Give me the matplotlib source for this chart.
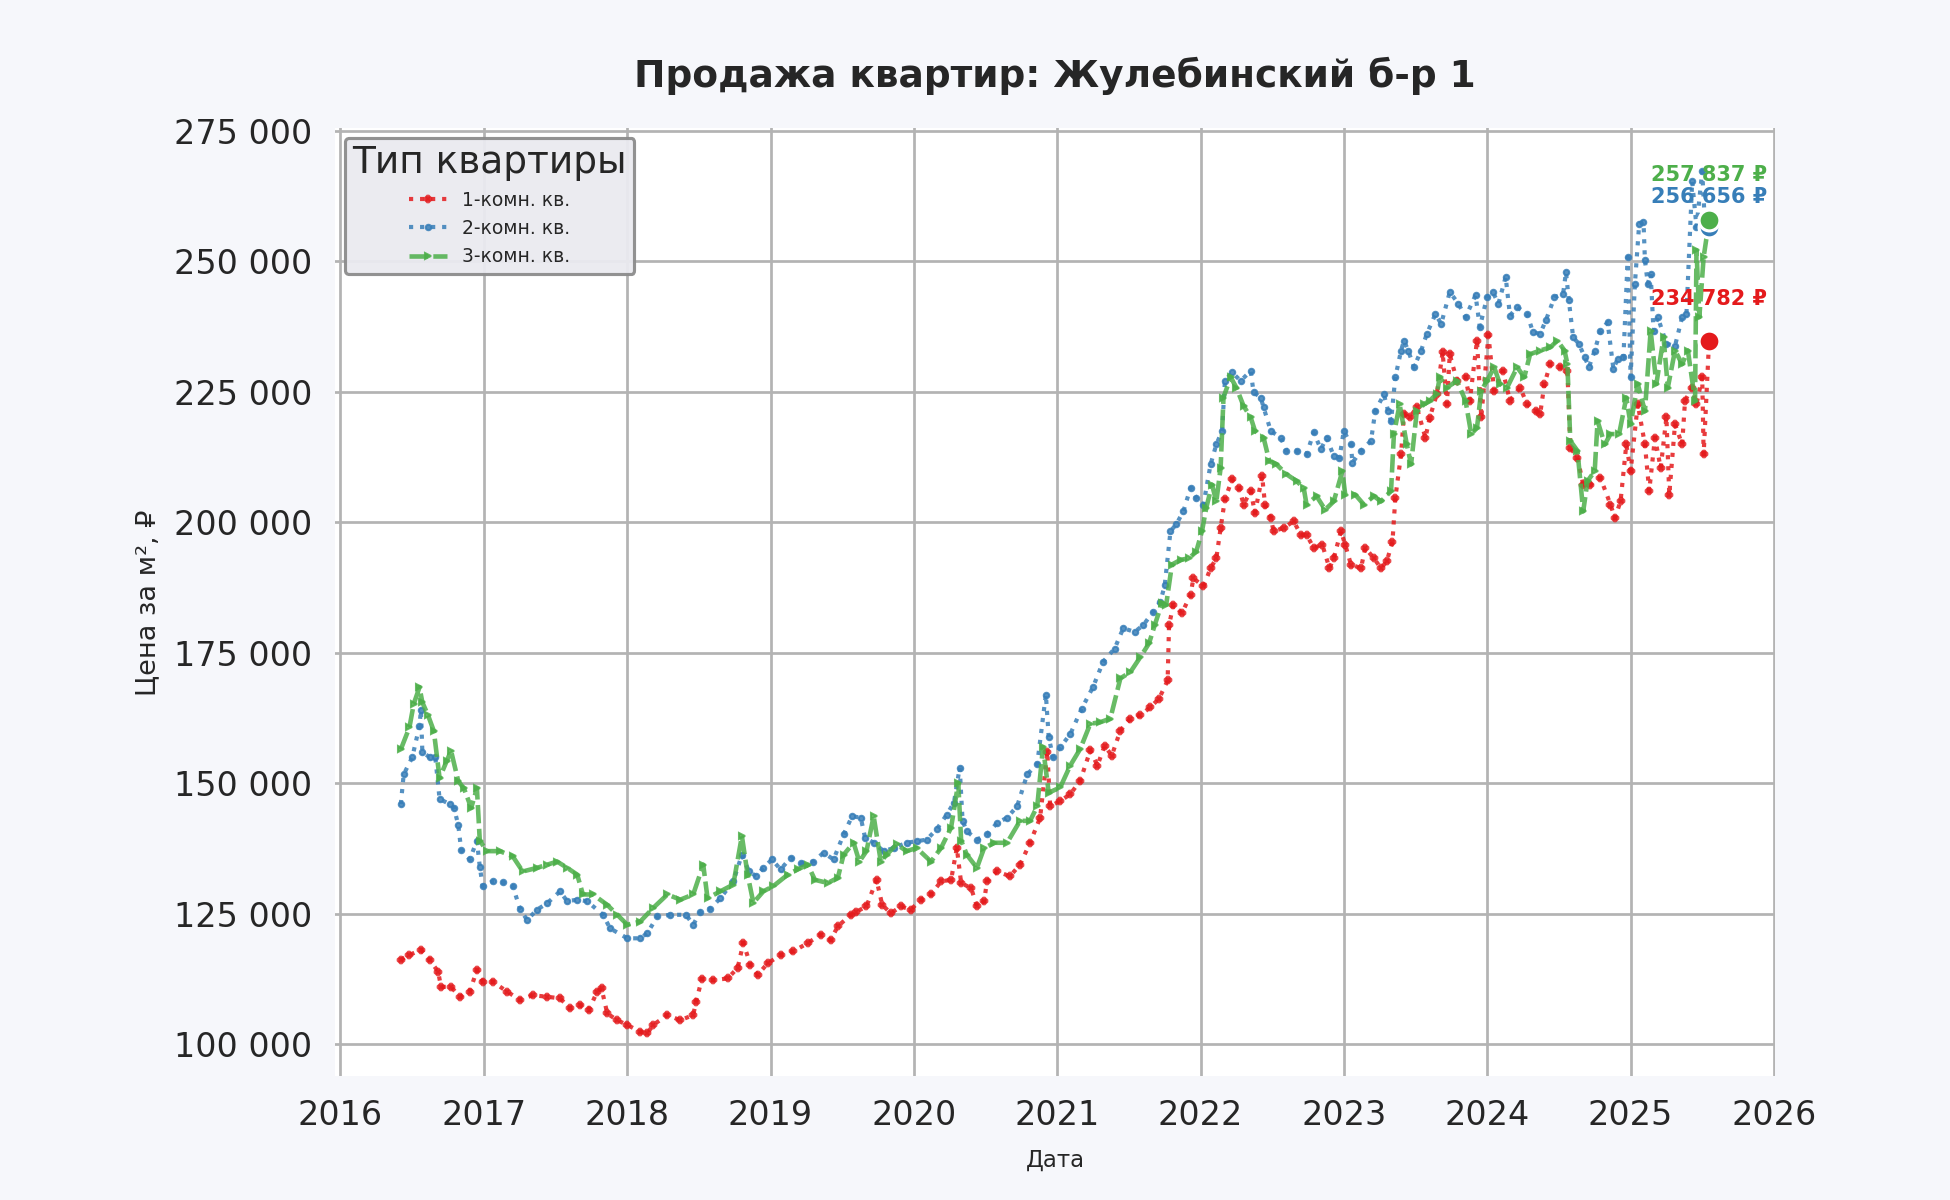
import numpy as np
import pandas as pd
import matplotlib
matplotlib.use("Agg")
import matplotlib.pyplot as plt
import matplotlib.dates as mdates
from matplotlib.ticker import FuncFormatter


# values: decimal year, price per m2 (thousand RUB)
years_1k = [2016.42, 2016.48, 2016.56, 2016.62, 2016.68, 2016.70, 2016.77, 2016.83, 2016.90, 2016.95,
            2016.99, 2017.06, 2017.16, 2017.25, 2017.34, 2017.44, 2017.53, 2017.60, 2017.67, 2017.73,
            2017.79, 2017.82, 2017.86, 2017.93, 2018.00, 2018.09, 2018.14, 2018.18, 2018.28, 2018.37,
            2018.46, 2018.48, 2018.52, 2018.60, 2018.70, 2018.77, 2018.81, 2018.86, 2018.91, 2018.98,
            2019.07, 2019.16, 2019.26, 2019.35, 2019.42, 2019.47, 2019.56, 2019.60, 2019.67, 2019.74,
            2019.78, 2019.84, 2019.91, 2019.98, 2020.05, 2020.12, 2020.19, 2020.26, 2020.30, 2020.33,
            2020.40, 2020.44, 2020.49, 2020.51, 2020.58, 2020.67, 2020.74, 2020.81, 2020.88, 2020.93,
            2020.95, 2021.02, 2021.09, 2021.16, 2021.23, 2021.28, 2021.33, 2021.38, 2021.44, 2021.51,
            2021.58, 2021.65, 2021.71, 2021.77, 2021.78, 2021.81, 2021.87, 2021.93, 2021.95, 2022.02,
            2022.07, 2022.11, 2022.14, 2022.17, 2022.22, 2022.27, 2022.30, 2022.35, 2022.38, 2022.43,
            2022.45, 2022.49, 2022.51, 2022.58, 2022.65, 2022.70, 2022.74, 2022.79, 2022.85, 2022.90,
            2022.93, 2022.98, 2023.01, 2023.05, 2023.12, 2023.15, 2023.21, 2023.26, 2023.30, 2023.34,
            2023.36, 2023.40, 2023.42, 2023.46, 2023.51, 2023.57, 2023.60, 2023.65, 2023.69, 2023.72,
            2023.74, 2023.79, 2023.85, 2023.88, 2023.93, 2023.96, 2024.01, 2024.05, 2024.11, 2024.16,
            2024.23, 2024.28, 2024.34, 2024.37, 2024.40, 2024.44, 2024.51, 2024.56, 2024.58, 2024.63,
            2024.67, 2024.72, 2024.79, 2024.86, 2024.89, 2024.93, 2024.97, 2025.00, 2025.05, 2025.10,
            2025.13, 2025.17, 2025.21, 2025.25, 2025.27, 2025.31, 2025.36, 2025.38, 2025.43, 2025.46,
            2025.50, 2025.51, 2025.548]
price_1k = [116.2, 117.1, 118.1, 116.2, 113.9, 111.0, 111.0, 109.1, 110.1, 114.2,
            112.0, 112.0, 110.1, 108.5, 109.4, 109.1, 108.8, 106.9, 107.5, 106.5,
            110.1, 110.7, 105.9, 104.6, 103.7, 102.4, 102.1, 103.7, 105.6, 104.6,
            105.6, 108.1, 112.5, 112.3, 112.6, 114.6, 119.4, 115.2, 113.3, 115.5,
            117.1, 117.8, 119.4, 121.0, 120.0, 122.6, 124.8, 125.4, 126.4, 131.5,
            126.7, 125.1, 126.4, 125.8, 127.7, 128.7, 131.2, 131.5, 137.6, 130.9,
            129.9, 126.4, 127.4, 131.2, 133.1, 132.2, 134.4, 138.6, 143.4, 156.0,
            145.6, 146.6, 147.9, 150.5, 156.3, 153.4, 157.2, 155.3, 160.1, 162.4,
            163.0, 164.6, 166.2, 169.7, 180.3, 184.2, 182.6, 186.1, 189.3, 187.7,
            191.2, 193.1, 198.9, 204.4, 208.2, 206.6, 203.4, 206.0, 201.8, 208.8,
            203.4, 200.8, 198.3, 198.9, 200.2, 197.6, 197.6, 195.1, 195.7, 191.2,
            193.1, 198.3, 195.7, 191.9, 191.2, 195.1, 193.1, 191.2, 192.5, 196.3,
            204.7, 213.0, 220.7, 220.1, 222.0, 216.2, 220.0, 224.6, 232.6, 222.6,
            232.2, 227.1, 227.8, 223.3, 234.8, 220.1, 235.8, 225.2, 229.0, 223.3,
            225.8, 222.6, 221.3, 220.7, 226.5, 230.3, 229.7, 229.0, 214.3, 212.4,
            207.2, 207.2, 208.5, 203.4, 200.8, 204.0, 214.9, 209.8, 222.6, 214.9,
            206.0, 216.2, 210.4, 220.1, 205.3, 218.8, 214.9, 223.3, 225.8, 222.6,
            227.8, 213.0, 234.782]

years_2k = [2016.42, 2016.44, 2016.50, 2016.55, 2016.56, 2016.57, 2016.62, 2016.66, 2016.69, 2016.76,
            2016.79, 2016.82, 2016.84, 2016.90, 2016.95, 2016.97, 2016.99, 2017.06, 2017.13, 2017.20,
            2017.25, 2017.30, 2017.37, 2017.44, 2017.53, 2017.58, 2017.65, 2017.72, 2017.83, 2017.88,
            2018.00, 2018.09, 2018.14, 2018.21, 2018.30, 2018.41, 2018.46, 2018.51, 2018.58, 2018.65,
            2018.74, 2018.80, 2018.85, 2018.90, 2018.95, 2019.01, 2019.07, 2019.14, 2019.21, 2019.30,
            2019.37, 2019.44, 2019.51, 2019.57, 2019.63, 2019.66, 2019.72, 2019.79, 2019.86, 2019.95,
            2020.02, 2020.09, 2020.16, 2020.23, 2020.28, 2020.32, 2020.34, 2020.37, 2020.44, 2020.51,
            2020.58, 2020.65, 2020.72, 2020.79, 2020.86, 2020.92, 2020.94, 2020.97, 2021.02, 2021.09,
            2021.17, 2021.25, 2021.32, 2021.40, 2021.46, 2021.54, 2021.60, 2021.67, 2021.72, 2021.75,
            2021.79, 2021.83, 2021.88, 2021.93, 2021.97, 2022.02, 2022.07, 2022.11, 2022.15, 2022.17,
            2022.22, 2022.28, 2022.35, 2022.37, 2022.42, 2022.44, 2022.49, 2022.56, 2022.60, 2022.67,
            2022.74, 2022.79, 2022.84, 2022.88, 2022.93, 2022.97, 2023.00, 2023.05, 2023.06, 2023.12,
            2023.19, 2023.22, 2023.28, 2023.31, 2023.33, 2023.36, 2023.40, 2023.42, 2023.45, 2023.49,
            2023.54, 2023.58, 2023.64, 2023.68, 2023.74, 2023.80, 2023.85, 2023.92, 2023.95, 2024.00,
            2024.04, 2024.08, 2024.13, 2024.16, 2024.21, 2024.28, 2024.32, 2024.37, 2024.41, 2024.47,
            2024.53, 2024.55, 2024.57, 2024.60, 2024.64, 2024.68, 2024.71, 2024.75, 2024.79, 2024.84,
            2024.88, 2024.91, 2024.95, 2024.98, 2025.00, 2025.03, 2025.06, 2025.09, 2025.10, 2025.12,
            2025.14, 2025.16, 2025.19, 2025.25, 2025.31, 2025.36, 2025.39, 2025.43, 2025.46, 2025.50,
            2025.52, 2025.548]
price_2k = [146.0, 151.7, 155.0, 161.0, 164.0, 156.0, 155.0, 155.0, 147.0, 146.0,
            145.3, 142.0, 137.3, 135.4, 139.0, 134.0, 130.3, 131.2, 131.0, 130.3,
            126.0, 123.8, 125.8, 127.0, 129.3, 127.4, 127.7, 127.4, 124.8, 122.2,
            120.3, 120.3, 121.3, 124.5, 124.8, 124.8, 122.9, 125.4, 126.0, 128.0,
            131.2, 136.3, 133.1, 132.2, 133.8, 135.4, 133.5, 135.7, 134.7, 135.0,
            136.7, 135.4, 140.2, 143.7, 143.4, 139.6, 138.6, 137.0, 137.6, 138.6,
            138.9, 139.2, 141.2, 144.0, 146.3, 153.0, 142.8, 140.8, 139.2, 140.2,
            142.4, 143.4, 145.6, 151.7, 153.7, 167.0, 158.8, 155.0, 156.9, 159.4,
            164.3, 168.5, 173.3, 175.8, 179.7, 179.0, 180.3, 182.9, 184.8, 188.0,
            198.3, 199.6, 202.1, 206.6, 204.7, 203.4, 211.1, 214.9, 217.5, 227.1,
            228.7, 227.1, 229.0, 224.9, 223.9, 222.0, 217.5, 216.2, 213.7, 213.7,
            213.0, 217.2, 214.0, 216.2, 212.7, 212.4, 217.5, 214.9, 211.4, 213.7,
            215.6, 221.3, 224.5, 221.3, 219.4, 227.8, 232.9, 234.8, 232.9, 229.7,
            232.9, 236.1, 239.9, 238.0, 244.1, 241.9, 239.3, 243.5, 237.4, 243.1,
            244.1, 241.9, 247.0, 239.6, 241.2, 239.9, 236.4, 236.1, 238.7, 243.1,
            243.8, 247.9, 242.5, 235.4, 234.2, 231.6, 229.7, 232.9, 236.7, 238.3,
            229.4, 231.3, 231.6, 250.8, 227.8, 245.7, 257.2, 257.6, 250.2, 245.7,
            247.6, 236.7, 239.3, 234.2, 233.8, 239.3, 239.9, 265.3, 256.6, 267.2,
            256.6, 256.656]

years_3k = [2016.42, 2016.48, 2016.51, 2016.55, 2016.57, 2016.61, 2016.65, 2016.69, 2016.74, 2016.77,
            2016.82, 2016.86, 2016.91, 2016.95, 2016.97, 2017.02, 2017.11, 2017.20, 2017.27, 2017.37,
            2017.44, 2017.51, 2017.58, 2017.65, 2017.69, 2017.76, 2017.86, 2017.93, 2018.00, 2018.09,
            2018.18, 2018.28, 2018.37, 2018.46, 2018.53, 2018.56, 2018.65, 2018.74, 2018.80, 2018.84,
            2018.88, 2018.95, 2019.02, 2019.12, 2019.19, 2019.26, 2019.31, 2019.40, 2019.47, 2019.51,
            2019.58, 2019.62, 2019.67, 2019.72, 2019.77, 2019.81, 2019.88, 2019.95, 2020.02, 2020.12,
            2020.19, 2020.26, 2020.31, 2020.33, 2020.37, 2020.44, 2020.49, 2020.56, 2020.65, 2020.74,
            2020.81, 2020.86, 2020.90, 2020.94, 2021.02, 2021.09, 2021.16, 2021.23, 2021.30, 2021.37,
            2021.44, 2021.51, 2021.58, 2021.64, 2021.68, 2021.73, 2021.76, 2021.80, 2021.86, 2021.92,
            2021.97, 2022.01, 2022.04, 2022.08, 2022.11, 2022.14, 2022.16, 2022.21, 2022.25, 2022.30,
            2022.35, 2022.38, 2022.44, 2022.48, 2022.53, 2022.60, 2022.67, 2022.72, 2022.74, 2022.81,
            2022.87, 2022.93, 2022.99, 2023.01, 2023.08, 2023.14, 2023.21, 2023.26, 2023.33, 2023.35,
            2023.39, 2023.44, 2023.47, 2023.51, 2023.56, 2023.60, 2023.65, 2023.67, 2023.72, 2023.79,
            2023.85, 2023.89, 2023.93, 2023.96, 2024.00, 2024.05, 2024.09, 2024.14, 2024.21, 2024.26,
            2024.30, 2024.37, 2024.44, 2024.49, 2024.54, 2024.56, 2024.58, 2024.63, 2024.67, 2024.70,
            2024.75, 2024.77, 2024.82, 2024.86, 2024.92, 2024.97, 2025.00, 2025.05, 2025.10, 2025.14,
            2025.18, 2025.23, 2025.26, 2025.31, 2025.36, 2025.40, 2025.45, 2025.46, 2025.48, 2025.51,
            2025.548]
price_3k = [156.5, 160.7, 165.2, 168.4, 165.5, 163.0, 160.0, 151.0, 154.3, 156.2,
            150.4, 149.0, 145.3, 149.0, 139.0, 137.0, 137.0, 136.0, 133.1, 133.8,
            134.4, 135.0, 133.8, 132.5, 128.7, 128.7, 126.7, 124.8, 122.9, 123.5,
            126.1, 128.7, 127.7, 128.7, 134.4, 128.0, 129.3, 130.6, 139.9, 132.5,
            127.1, 129.3, 130.3, 132.5, 133.5, 134.4, 131.5, 130.9, 131.9, 136.3,
            138.6, 135.0, 137.0, 143.7, 135.0, 136.3, 138.3, 137.0, 137.6, 135.0,
            137.6, 141.5, 150.1, 139.0, 136.3, 133.8, 137.6, 138.6, 138.6, 142.8,
            142.8, 145.6, 156.9, 148.2, 149.2, 153.4, 156.6, 161.4, 161.7, 162.4,
            170.1, 171.3, 174.2, 176.8, 180.3, 184.5, 184.2, 191.9, 192.8, 193.1,
            194.4, 198.3, 202.8, 207.2, 204.0, 210.4, 223.9, 227.8, 225.8, 222.3,
            220.1, 217.5, 216.2, 211.7, 211.1, 209.2, 207.9, 206.6, 203.4, 205.0,
            202.4, 204.0, 209.8, 205.3, 205.3, 203.4, 205.0, 204.0, 206.0, 216.9,
            222.6, 214.9, 211.1, 221.3, 222.6, 223.3, 224.6, 227.8, 225.8, 227.1,
            223.3, 216.9, 218.1, 225.2, 227.1, 229.7, 226.5, 225.8, 229.7, 227.8,
            232.2, 232.9, 233.5, 234.8, 232.9, 230.3, 215.6, 213.7, 202.1, 207.9,
            209.8, 219.4, 214.9, 216.9, 216.9, 223.9, 218.8, 226.5, 221.3, 236.7,
            226.5, 235.4, 225.8, 232.9, 230.3, 232.9, 223.3, 252.1, 239.3, 250.8,
            257.837]

labels = ["1-комн. кв.", "2-комн. кв.", "3-комн. кв."]
colors = ["#e41a1c", "#377eb8", "#4daf4a"]


def to_dates(years):
    out = []
    for y in years:
        start = pd.Timestamp(int(y), 1, 1)
        end = pd.Timestamp(int(y) + 1, 1, 1)
        out.append(start + (end - start) * (y - int(y)))
    return pd.to_datetime(out)


series = [
    (to_dates(years_1k), np.array(price_1k) * 1000),
    (to_dates(years_2k), np.array(price_2k) * 1000),
    (to_dates(years_3k), np.array(price_3k) * 1000),
]
styles = [dict(ls=":", marker="X", lw=2.0, ms=2.6),
          dict(ls=":", marker="o", lw=2.0, ms=2.6),
          dict(ls=(0, (4, 1.2)), marker=">", lw=2.2, ms=2.8)]

text_color = "#262626"
fig = plt.figure(figsize=(13, 8), dpi=150, facecolor="#f6f7fb")
ax = fig.add_axes([0.172, 0.103, 0.738, 0.79])
ax.set_facecolor("white")

for (d, v), lab, c, st in zip(series, labels, colors, styles):
    ax.plot(d, v, color=c, alpha=0.85, label=lab, **st)

# last values
offsets = [20, 14, 22]
for (d, v), c, off in zip(series, colors, offsets):
    ax.plot(d[-1], v[-1], "o", color=c, ms=10, mec="white", mew=1.5, zorder=5)
    ax.annotate(f"{v[-1]:,.0f} ₽".replace(",", " "), (d[-1], v[-1]),
                xytext=(0, off), textcoords="offset points",
                ha="center", va="center", fontsize=10, fontweight="bold", color=c)

ax.xaxis.set_major_locator(mdates.YearLocator())
ax.xaxis.set_major_formatter(mdates.DateFormatter("%Y"))
ax.yaxis.set_major_locator(plt.MultipleLocator(25000))
ax.yaxis.set_major_formatter(FuncFormatter(lambda x, p: f"{x:,.0f}".replace(",", " ")))

ax.grid(True, color="#b3b3b3", lw=1.3)
ax.set_axisbelow(True)
for s in ax.spines.values():
    s.set_visible(False)
ax.tick_params(axis="both", length=0, labelsize=16, colors=text_color, pad=11)

ax.set_title("Продажа квартир: Жулебинский б-р 1", fontsize=18, fontweight="bold",
             color=text_color, pad=20)
ax.set_xlabel("Дата", fontsize=11, color=text_color, labelpad=8)
ax.set_ylabel("Цена за м², ₽", fontsize=13, color=text_color, labelpad=6)

leg = ax.legend(title="Тип квартиры", loc="upper left", fontsize=9, title_fontsize=18,
                facecolor="#eaeaf0", edgecolor="#8c8c8c", framealpha=0.95)
leg.get_frame().set_linewidth(1.5)
for t in leg.get_texts():
    t.set_color(text_color)
leg.get_title().set_color(text_color)

fig.savefig("out.png", dpi=150, facecolor=fig.get_facecolor())
